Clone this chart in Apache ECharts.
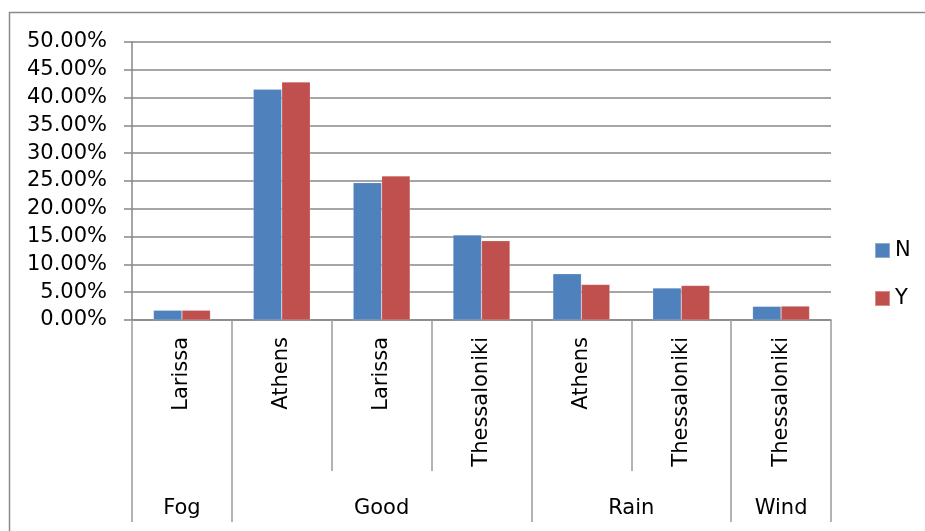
<!DOCTYPE html>
<html>
<head>
<meta charset="utf-8">
<title>Weather by city</title>
<script src="https://cdn.jsdelivr.net/npm/echarts@6/dist/echarts.min.js"></script>
<style>
  html, body { margin: 0; padding: 0; background: #fff; }
  #chart { width: 925px; height: 531px; }
</style>
</head>
<body>
<div id="chart"></div>
<script>
// Weather condition (outer group) and city (inner category) for each bar pair
const groups = ['Fog', 'Good', 'Good', 'Good', 'Rain', 'Rain', 'Wind'];
const cities = ['Larissa', 'Athens', 'Larissa', 'Thessaloniki', 'Athens', 'Thessaloniki', 'Thessaloniki'];

// Share of records (%) per series
const seriesNames = ['N', 'Y'];
const valuesN = [1.75, 41.5, 24.7, 15.3, 8.3, 5.75, 2.45];
const valuesY = [1.75, 42.8, 25.9, 14.25, 6.4, 6.2, 2.5];

// Value-axis ticks
const yTicks = [0, 5, 10, 15, 20, 25, 30, 35, 40, 45, 50];

const FONT = 'DejaVu Sans';
const GRID_COLOR = '#878787';
const SEP_COLOR = '#9a9a9a';

// Unique keys so repeated city names stay separate slots
const keys = cities.map((c, i) => groups[i] + '|' + c);

// Outer group spans: boundaries and centres in slot units
const bounds = [0];
const centres = [];
const centreNames = {};
let start = 0;
for (let i = 1; i <= groups.length; i++) {
  if (i === groups.length || groups[i] !== groups[start]) {
    bounds.push(i);
    const c = (start + i) / 2;
    centres.push(c);
    centreNames[c] = groups[start];
    start = i;
  }
}

const chart = echarts.init(document.getElementById('chart'), null, { renderer: 'canvas' });

chart.setOption({
  animation: false,
  backgroundColor: '#fff',
  color: ['#4F81BD', '#C0504D'],
  graphic: [{
    type: 'rect',
    shape: { x: 9.5, y: 12.5, width: 1000, height: 1000 },
    style: { fill: 'none', stroke: '#8a8a8a', lineWidth: 1.5 },
    silent: true,
    z: -10
  }],
  grid: { left: 132, right: 94, top: 42, bottom: 211, containLabel: false },
  legend: {
    orient: 'vertical',
    left: 874,
    top: 240,
    padding: 0,
    itemWidth: 15,
    itemHeight: 15,
    itemGap: 27,
    icon: 'rect',
    textStyle: { fontFamily: FONT, fontSize: 21, color: '#000' },
    data: seriesNames
  },
  xAxis: [{
    type: 'category',
    data: keys,
    position: 'bottom',
    axisLine: { show: true, lineStyle: { color: GRID_COLOR, width: 1.5 } },
    axisTick: { show: true, interval: 0, length: 151, lineStyle: { color: SEP_COLOR, width: 1.5 } },
    axisLabel: {
      interval: 0,
      rotate: 90,
      margin: 17,
      fontFamily: FONT,
      fontSize: 21,
      color: '#000',
      formatter: v => v.split('|')[1]
    },
    splitLine: { show: false }
  }, {
    type: 'value',
    min: 0,
    max: groups.length,
    position: 'bottom',
    axisLine: { show: false },
    axisTick: {
      show: true,
      customValues: bounds,
      length: 202,
      lineStyle: { color: SEP_COLOR, width: 1.5 }
    },
    axisLabel: {
      show: true,
      customValues: centres,
      margin: 178,
      fontFamily: FONT,
      fontSize: 21,
      color: '#000',
      formatter: v => centreNames[v] || ''
    },
    splitLine: { show: false }
  }],
  yAxis: {
    type: 'value',
    min: yTicks[0],
    max: yTicks[yTicks.length - 1],
    interval: yTicks[1] - yTicks[0],
    axisLine: { show: true, lineStyle: { color: GRID_COLOR, width: 1.5 } },
    axisTick: { show: true, length: 8, lineStyle: { color: GRID_COLOR, width: 1.5 } },
    axisLabel: {
      margin: 25,
      fontFamily: FONT,
      fontSize: 21,
      color: '#000',
      formatter: v => v.toFixed(2) + '%'
    },
    splitLine: { show: true, lineStyle: { color: GRID_COLOR, width: 1.5 } }
  },
  series: [{
    name: seriesNames[0],
    type: 'bar',
    xAxisIndex: 0,
    data: valuesN,
    barGap: '0%',
    barCategoryGap: '43%',
    itemStyle: { borderColor: 'rgba(255,255,255,0.35)', borderWidth: 0.5 }
  }, {
    name: seriesNames[1],
    type: 'bar',
    xAxisIndex: 0,
    data: valuesY,
    barGap: '0%',
    barCategoryGap: '43%',
    itemStyle: { borderColor: 'rgba(255,255,255,0.35)', borderWidth: 0.5 }
  }]
});
</script>
</body>
</html>
